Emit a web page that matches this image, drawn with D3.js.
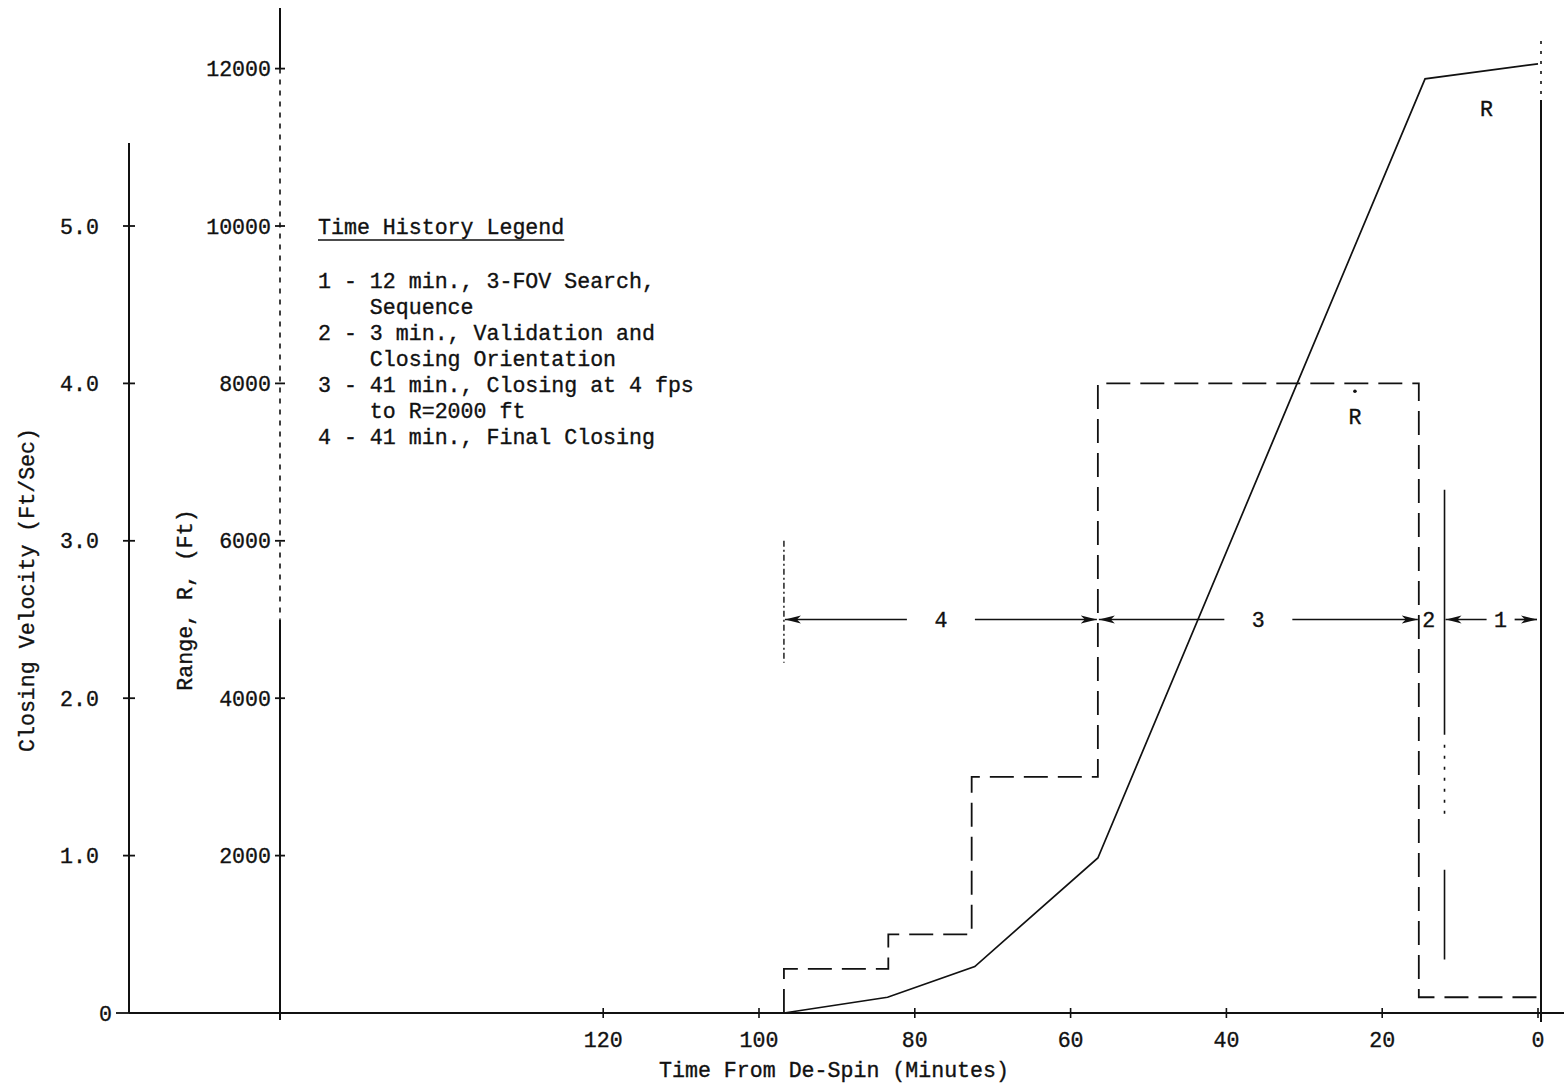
<!DOCTYPE html>
<html>
<head>
<meta charset="utf-8">
<script src="https://cdn.jsdelivr.net/npm/d3@7/dist/d3.min.js"></script>
<style>
  html, body { margin: 0; padding: 0; background: #fff; }
  svg { display: block; }
  text { font-family: "Liberation Mono", "DejaVu Sans Mono", monospace; font-size: 21.6px; fill: #111; stroke: #111; stroke-width: 0.35px; }
</style>
</head>
<body>
<svg id="chart" width="1564" height="1087"></svg>
<script>
// ---- data -------------------------------------------------------------
const timeTicks     = [120, 100, 80, 60, 40, 20, 0];          // minutes from de-spin
const velocityTicks = [0, 1, 2, 3, 4, 5];                     // ft/sec
const rangeTicks    = [2000, 4000, 6000, 8000, 10000, 12000]; // ft

// Range R (ft) history
const rangeTime = [96.8, 83.5, 72.3, 56.5, 14.5, 0];
const rangeFt   = [0, 200, 590, 1970, 11870, 12060];

// Closing velocity (ft/sec), stepped profile
const velTime = [96.8, 96.8, 83.4, 83.4, 72.7, 72.7, 56.5, 56.5, 15.3, 15.3, 0];
const velFps  = [0, 0.28, 0.28, 0.5, 0.5, 1.5, 1.5, 4.0, 4.0, 0.1, 0.1];

// Mission phases (numbered as in the legend), boundaries in minutes
const phaseIds   = ["4", "3", "2", "1"];
const phaseStart = [96.8, 56.5, 15.3, 12];
const phaseEnd   = [56.5, 15.3, 12, 0];
const phaseLineVelocity = 2.5;

const legendTitle = "Time History Legend";
const legendLines = [
  "1 - 12 min., 3-FOV Search,",
  "    Sequence",
  "2 - 3 min., Validation and",
  "    Closing Orientation",
  "3 - 41 min., Closing at 4 fps",
  "    to R=2000 ft",
  "4 - 41 min., Final Closing"
];

// ---- layout -----------------------------------------------------------
const W = 1564, H = 1087;
const svg = d3.select("#chart");
const vAxisX = 129, rAxisX = 280, baseY = 1013;

const x  = d3.scaleLinear().domain([100, 0]).range([759, 1538]);
const vy = d3.scaleLinear().domain([0, 5]).range([baseY, 226]);
const ry = d3.scaleLinear().domain([0, 10000]).range([baseY, 226]);

const ink = "#111";

// ---- axes -------------------------------------------------------------
// closing velocity axis
svg.append("line").attr("x1", vAxisX).attr("x2", vAxisX)
  .attr("y1", 143).attr("y2", baseY).attr("stroke", ink).attr("stroke-width", 2);
const vg = svg.append("g");
velocityTicks.forEach(v => {
  const y = vy(v);
  vg.append("line").attr("x1", v === 0 ? vAxisX - 13 : vAxisX - 6).attr("x2", v === 0 ? vAxisX : vAxisX + 6)
    .attr("y1", y).attr("y2", y).attr("stroke", ink).attr("stroke-width", 1.8);
  vg.append("text").attr("x", v === 0 ? vAxisX - 17 : vAxisX - 30).attr("y", y)
    .attr("dy", "0.35em").attr("text-anchor", "end")
    .text(v === 0 ? "0" : d3.format(".1f")(v));
});

// range axis: solid top and bottom, broken middle portion
const rTop = 8, rBot = baseY + 7;
svg.append("line").attr("x1", rAxisX).attr("x2", rAxisX)
  .attr("y1", rTop).attr("y2", ry(12000)).attr("stroke", ink).attr("stroke-width", 2);
svg.append("line").attr("x1", rAxisX).attr("x2", rAxisX)
  .attr("y1", ry(12000)).attr("y2", ry(5000)).attr("stroke", ink).attr("stroke-width", 1.6)
  .attr("stroke-dasharray", "5,6");
svg.append("line").attr("x1", rAxisX).attr("x2", rAxisX)
  .attr("y1", ry(5000)).attr("y2", rBot).attr("stroke", ink).attr("stroke-width", 2);
const rg = svg.append("g");
rangeTicks.forEach(r => {
  const y = ry(r);
  rg.append("line").attr("x1", rAxisX - 5).attr("x2", rAxisX + 5)
    .attr("y1", y).attr("y2", y).attr("stroke", ink).attr("stroke-width", 1.8);
  rg.append("text").attr("x", rAxisX - 9).attr("y", y)
    .attr("dy", "0.35em").attr("text-anchor", "end").text(r);
});

// time axis
svg.append("line").attr("x1", vAxisX).attr("x2", W)
  .attr("y1", baseY).attr("y2", baseY).attr("stroke", ink).attr("stroke-width", 2.2);
const xg = svg.append("g");
timeTicks.forEach(t => {
  const xx = x(t);
  xg.append("line").attr("x1", xx).attr("x2", xx)
    .attr("y1", baseY - 5).attr("y2", baseY + 5).attr("stroke", ink).attr("stroke-width", 1.6);
  xg.append("text").attr("x", xx).attr("y", 1047).attr("text-anchor", "middle").text(t);
});

// axis titles
svg.append("text").attr("transform", "translate(34,590) rotate(-90)")
  .attr("text-anchor", "middle").text("Closing Velocity (Ft/Sec)");
svg.append("text").attr("transform", "translate(192,600) rotate(-90)")
  .attr("text-anchor", "middle").text("Range, R, (Ft)");
svg.append("text").attr("x", 834).attr("y", 1077)
  .attr("text-anchor", "middle").text("Time From De-Spin (Minutes)");

// ---- end-of-mission reference line at t = 0 --------------------------
svg.append("line").attr("x1", x(0) + 3).attr("x2", x(0) + 3)
  .attr("y1", ry(12350)).attr("y2", ry(11600)).attr("stroke", ink).attr("stroke-width", 1.6)
  .attr("stroke-dasharray", "3,7");
svg.append("line").attr("x1", x(0) + 3).attr("x2", x(0) + 3)
  .attr("y1", ry(11600)).attr("y2", baseY + 9).attr("stroke", ink).attr("stroke-width", 2);

// ---- series -----------------------------------------------------------
const rangeLine = d3.line().x(d => x(d[0])).y(d => ry(d[1]));
svg.append("path").datum(d3.zip(rangeTime, rangeFt))
  .attr("d", rangeLine).attr("fill", "none").attr("stroke", ink).attr("stroke-width", 1.7);

const velLine = d3.line().x(d => x(d[0])).y(d => vy(d[1]));
svg.append("path").datum(d3.zip(velTime, velFps))
  .attr("d", velLine).attr("fill", "none").attr("stroke", ink).attr("stroke-width", 1.8)
  .attr("stroke-dasharray", "24,10");

// ---- phase extension lines -------------------------------------------
svg.append("line").attr("x1", x(phaseStart[0])).attr("x2", x(phaseStart[0]))
  .attr("y1", ry(6000)).attr("y2", ry(4450)).attr("stroke", ink).attr("stroke-width", 1.4)
  .attr("stroke-dasharray", "6,3,2,3");
svg.append("line").attr("x1", x(phaseStart[3])).attr("x2", x(phaseStart[3]))
  .attr("y1", ry(6650)).attr("y2", ry(680)).attr("stroke", ink).attr("stroke-width", 1.6)
  .attr("stroke-dasharray", "245,10,3,8,3,8,3,8,3,8,3,8,3,8,3,56,90");

// ---- phase dimension arrows ------------------------------------------
const defs = svg.append("defs");
defs.append("marker").attr("id", "arrow").attr("viewBox", "0 0 16 10")
  .attr("refX", 16).attr("refY", 5).attr("markerWidth", 16).attr("markerHeight", 10)
  .attr("markerUnits", "userSpaceOnUse").attr("orient", "auto-start-reverse")
  .append("path").attr("d", "M0,1 L16,5 L0,9 L4,5 Z").attr("fill", ink);

const py = vy(phaseLineVelocity);
const pg = svg.append("g");
phaseIds.forEach((id, i) => {
  const x0 = x(phaseStart[i]), x1 = x(phaseEnd[i]);
  const w = x1 - x0;
  if (w > 60) {
    const mid = w < 120 ? x0 + w * 0.6 : (x0 + x1) / 2;
    const gap = Math.min(34, w * 0.15);
    pg.append("line").attr("x1", mid - gap).attr("x2", x0 + 1).attr("y1", py).attr("y2", py)
      .attr("stroke", ink).attr("stroke-width", 1.7).attr("marker-end", "url(#arrow)");
    pg.append("line").attr("x1", mid + gap).attr("x2", x1 - 1).attr("y1", py).attr("y2", py)
      .attr("stroke", ink).attr("stroke-width", 1.7).attr("marker-end", "url(#arrow)");
    pg.append("text").attr("x", mid).attr("y", py).attr("dy", "0.35em")
      .attr("text-anchor", "middle").text(id);
  } else {
    pg.append("text").attr("x", (x0 + x1) / 2 - 3).attr("y", py).attr("dy", "0.35em")
      .attr("text-anchor", "middle").text(id);
  }
});

// ---- curve labels -----------------------------------------------------
svg.append("text").attr("x", x(6.6)).attr("y", ry(11500)).attr("dy", "0.35em")
  .attr("text-anchor", "middle").text("R");
svg.append("text").attr("x", x(23.5)).attr("y", vy(3.79)).attr("dy", "0.35em")
  .attr("text-anchor", "middle").text("R");
svg.append("circle").attr("cx", x(23.5)).attr("cy", vy(3.95)).attr("r", 1.8).attr("fill", ink);

// ---- legend -----------------------------------------------------------
const lg = svg.append("g").attr("transform", "translate(318,0)");
const titleText = lg.append("text").attr("x", 0).attr("y", 234).text(legendTitle);
const tw = titleText.node().getComputedTextLength();
lg.append("line").attr("x1", 0).attr("x2", tw).attr("y1", 240).attr("y2", 240)
  .attr("stroke", ink).attr("stroke-width", 1.6);
lg.selectAll("text.entry").data(legendLines).enter().append("text")
  .attr("class", "entry").attr("x", 0).attr("y", (d, i) => 288 + i * 26)
  .style("white-space", "pre").text(d => d);
</script>
</body>
</html>
